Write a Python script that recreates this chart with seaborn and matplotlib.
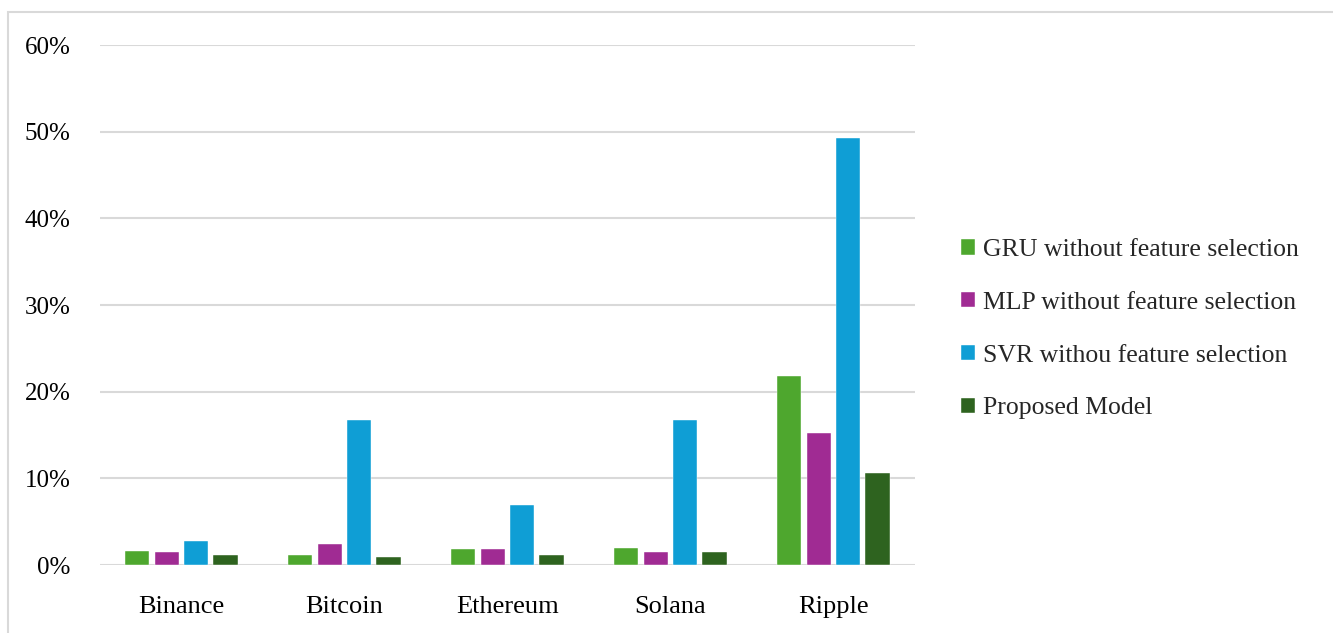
import pandas as pd
import matplotlib
matplotlib.use('Agg')
import matplotlib.pyplot as plt
import seaborn as sns
from matplotlib.ticker import PercentFormatter
from matplotlib.patches import Rectangle

coins = ['Binance', 'Bitcoin', 'Ethereum', 'Solana', 'Ripple']
models = ['GRU without feature selection', 'MLP without feature selection',
          'SVR withou feature selection', 'Proposed Model']
gru = [0.016, 0.011, 0.018, 0.0195, 0.218]
mlp = [0.0155, 0.024, 0.019, 0.015, 0.152]
svr = [0.0275, 0.1675, 0.069, 0.1675, 0.493]
proposed = [0.011, 0.009, 0.012, 0.015, 0.106]
colors = ['#4EA72E', '#A02B93', '#0F9ED5', '#2E631F']

rows = []
for name, vals in zip(models, [gru, mlp, svr, proposed]):
    for coin, v in zip(coins, vals):
        rows.append({'coin': coin, 'model': name, 'value': v})
df = pd.DataFrame(rows)

sns.set_style('white')
plt.rcParams['font.family'] = ['Liberation Serif', 'DejaVu Serif']

fig = plt.figure(figsize=(13.33, 6.33), dpi=100)
ax = fig.add_axes([0.075, 0.1074, 0.6114, 0.8215])

sns.barplot(data=df, x='coin', y='value', hue='model', order=coins, hue_order=models,
            palette=colors, saturation=1, width=0.72, gap=0.18, edgecolor='white',
            linewidth=0.3, ax=ax, zorder=3)

ax.set_ylim(0, 0.6)
ax.set_xlim(-0.5, 4.5)
ax.set_yticks([i / 10 for i in range(7)])
ax.yaxis.set_major_formatter(PercentFormatter(1.0, decimals=0))
ax.grid(axis='y', color='#D9D9D9', linewidth=1.5, zorder=0)
ax.set_axisbelow(True)
for s in ax.spines.values():
    s.set_visible(False)
ax.tick_params(axis='y', length=0, pad=21, labelsize=18, colors='black')
ax.tick_params(axis='x', length=0, pad=22, labelsize=19, colors='black')
ax.set_xlabel('')
ax.set_ylabel('')

ax.legend(loc='center left', bbox_to_anchor=(0.713, 0.48), bbox_transform=fig.transFigure,
          frameon=False, fontsize=18.5, handlelength=0.55, handleheight=0.55,
          handletextpad=0.3, labelspacing=1.2, borderaxespad=0)

fig.patches.append(Rectangle((8 / 1333, -0.05), 1.1, 1 - 12 / 633 + 0.05,
                             transform=fig.transFigure, fill=False,
                             edgecolor='#D9D9D9', linewidth=1.5))

fig.savefig('out.png', dpi=100)
